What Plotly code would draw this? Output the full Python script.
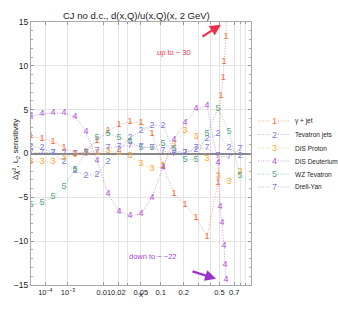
import plotly.graph_objects as go

# ---------------- data ----------------
x_grid = [1e-5, 6.4e-5, 2.48e-4, 7.17e-4, 1.72e-3, 3.63e-3, 6.93e-3, 0.0123, 0.0206, 0.0328,
          0.0503, 0.0746, 0.107, 0.151, 0.207, 0.280, 0.371, 0.484, 0.624, 0.794]

x_gamma_jet = x_grid[:18] + [0.519, 0.546, 0.558, 0.584, 0.59]
y_gamma_jet = [2.0, 1.7, 1.3, 0.7, 0.0, 0.2, 1.4, 2.6, 3.3, 3.6, 3.5, 2.3, -1.4, -4.6, -5.8, -7.3,
               -9.5, -3.3, 6.6, 8.6, 10.5, 13.3, 30.0]

x_tev_jets = x_grid
y_tev_jets = [0.8, 0.6, 0.1, -0.9, -2.0, -2.5, -2.4, -0.9, 0.4, 1.8, 2.6, 3.2, 3.2, 0.3, 0.1, 0.4,
              1.7, 2.2, 0.7, -0.2]

x_dis_p = x_grid
y_dis_p = [-0.9, -0.9, -0.9, -0.5, -0.1, 0.0, 0.1, 0.3, 0.1, -0.3, -1.2, -1.7, -1.5, 1.0, 2.6, 1.9,
           -0.6, -2.5, -3.2, -2.1]

x_dis_d = x_grid[:18] + [0.508, 0.531, 0.558, 0.571, 0.584]
y_dis_d = [4.3, 4.5, 4.6, 4.6, 4.2, 2.5, -0.8, -4.6, -6.6, -7.1, -6.9, -5.0, -1.6, 1.6, 3.5, 5.1,
           5.4, -1.1, -6.1, -7.9, -10.5, -12.7, -14.4]

x_wz = x_grid
y_wz = [-5.9, -5.6, -4.9, -3.8, -1.8, 0.1, 1.8, 2.3, 1.8, 1.3, 0.7, 0.7, 1.1, 0.5, -0.7, -0.7,
        2.3, 5.1, 2.5, -2.5]

x_dy = x_grid
y_dy = [0.1, 0.1, 0.1, 0.0, 0.0, 0.1, 0.3, 0.6, 0.8, 0.9, 0.8, 0.6, 0.3, 0.0, 0.1, 0.6, 0.6,
        -0.3, -0.4, 0.5]

series_ids = ["1", "2", "3", "4", "5", "7"]
series_names = ["γ + jet", "Tevatron jets", "DIS Proton", "DIS Deuterium", "WZ Tevatron", "Drell-Yan"]
series_x = [x_gamma_jet, x_tev_jets, x_dis_p, x_dis_d, x_wz, x_dy]
series_y = [y_gamma_jet, y_tev_jets, y_dis_p, y_dis_d, y_wz, y_dy]
colors = ["#f0693a", "#7a80d8", "#f7a834", "#b04fd0", "#5ba48a", "#8c79e0"]

x_tick_vals = [1e-4, 1e-3, 0.01, 0.02, 0.05, 0.1, 0.2, 0.5, 0.7]
x_tick_text = ["10<sup>−4</sup>", "10<sup>−3</sup>", "0.01", "0.02", "0.05", "0.1", "0.2", "0.5", "0.7"]
x_minor_vals = [0.03, 0.3, 0.4, 0.8, 0.9]

POW = 0.2  # axis scale: x^0.2


def tr(v):
    return [a ** POW for a in v]


def rgba(h, a):
    h = h.lstrip("#")
    return "rgba(%d,%d,%d,%.2f)" % (int(h[0:2], 16), int(h[2:4], 16), int(h[4:6], 16), a)


FONT = "Liberation Sans, Arial, Helvetica, sans-serif"
DOT = "1px,1.6px"

fig = go.Figure()
for sid, xs, ys, c in zip(series_ids, series_x, series_y, colors):
    fig.add_trace(go.Scatter(
        x=tr(xs), y=ys, mode="lines+text", text=[sid] * len(xs),
        textposition="middle center",
        textfont=dict(family=FONT, size=9, color=c),
        line=dict(color=rgba(c, 0.6), width=1, dash=DOT),
        showlegend=False, hoverinfo="skip", cliponaxis=True,
    ))

# ---------------- manual legend ----------------
L, R, T, B = 31, 251, 22, 285
W, H = R - L, B - T


def px(xp):
    return (xp - L) / W


def py(yp):
    return (B - yp) / H


legend_rows = [121, 134.5, 148, 161, 174, 187]
for sid, name, c, yr in zip(series_ids, series_names, colors, legend_rows):
    fig.add_shape(type="line", xref="paper", yref="paper", x0=px(258), x1=px(270), y0=py(yr), y1=py(yr),
                  line=dict(color=rgba(c, 0.6), width=1, dash=DOT))
    fig.add_shape(type="line", xref="paper", yref="paper", x0=px(278), x1=px(289), y0=py(yr), y1=py(yr),
                  line=dict(color=rgba(c, 0.6), width=1, dash=DOT))
    fig.add_annotation(xref="paper", yref="paper", x=px(274), y=py(yr), text=sid, showarrow=False,
                       font=dict(family=FONT, size=9, color=c), xanchor="center", yanchor="middle")
    fig.add_annotation(xref="paper", yref="paper", x=px(293), y=py(yr), text=name, showarrow=False,
                       font=dict(family=FONT, size=6.5, color="#222"), xanchor="left", yanchor="middle")

# ---------------- arrows & notes ----------------
fig.add_annotation(x=0.877, y=14.7, xref="x", yref="y", ax=-20, ay=13, text="", showarrow=True,
                   arrowhead=2, arrowsize=1.0, arrowwidth=2.2, arrowcolor="#f0304a")
fig.add_annotation(xref="paper", yref="paper", x=px(193), y=py(46), text="up to − 30", showarrow=False,
                   font=dict(family=FONT, size=7.5, color="#f0304a"))
fig.add_annotation(x=0.857, y=-14.3, xref="x", yref="y", ax=-25, ay=-8, text="", showarrow=True,
                   arrowhead=2, arrowsize=1.0, arrowwidth=2.2, arrowcolor="#9b30d0")
fig.add_annotation(xref="paper", yref="paper", x=px(179), y=py(263), text="down to − −22", showarrow=False,
                   font=dict(family=FONT, size=7.5, color="#a640d8"))

# axis titles / title
fig.add_annotation(xref="paper", yref="paper", x=px(141), y=py(301), text="x", showarrow=False,
                   font=dict(family=FONT, size=8, color="#222"))
fig.add_annotation(xref="paper", yref="paper", x=px(9), y=py(150), text="Δχ², L<sub>2</sub> sensitivity",
                   textangle=-90, showarrow=False, font=dict(family=FONT, size=8, color="#222"))
fig.add_annotation(xref="paper", yref="paper", x=px(136), y=py(8), text="CJ no d.c., d(x,Q)/u(x,Q)(x, 2 GeV)",
                   showarrow=False, font=dict(family=FONT, size=9.5, color="#222"))

fig.update_layout(
    width=338, height=310,
    margin=dict(l=L, r=338 - R, t=T, b=310 - B, pad=0),
    paper_bgcolor="white", plot_bgcolor="white",
    font=dict(family=FONT, size=8, color="#222"),
    showlegend=False,
)
fig.update_xaxes(
    range=[0.1, 1.0], tickmode="array", tickvals=tr(x_tick_vals), ticktext=x_tick_text,
    tickangle=0,
    showgrid=True, gridcolor="#e4e4e4", gridwidth=1,
    ticks="inside", ticklen=3, tickcolor="#999", tickfont=dict(size=7.5, color="#222"),
    minor=dict(tickmode="array", tickvals=tr(x_minor_vals), showgrid=True, gridcolor="#e4e4e4",
               ticks="inside", ticklen=2, tickcolor="#999"),
    showline=True, linecolor="#aaa", linewidth=1, mirror="ticks", zeroline=False,
)
fig.update_yaxes(
    range=[-15, 15], tickmode="array", tickvals=[-15, -10, -5, 0, 5, 10, 15],
    showgrid=True, gridcolor="#e4e4e4", gridwidth=1,
    ticks="inside", ticklen=3, tickcolor="#999", tickfont=dict(size=8.5, color="#222"),
    minor=dict(dtick=1, ticks="inside", ticklen=2, tickcolor="#aaa", showgrid=False),
    zeroline=True, zerolinecolor="#888", zerolinewidth=1.5,
    showline=True, linecolor="#aaa", linewidth=1, mirror="ticks",
)

fig.write_html("out.html", config={"displayModeBar": False},
               post_script="document.body.style.margin='0';document.body.style.overflow='hidden';")
